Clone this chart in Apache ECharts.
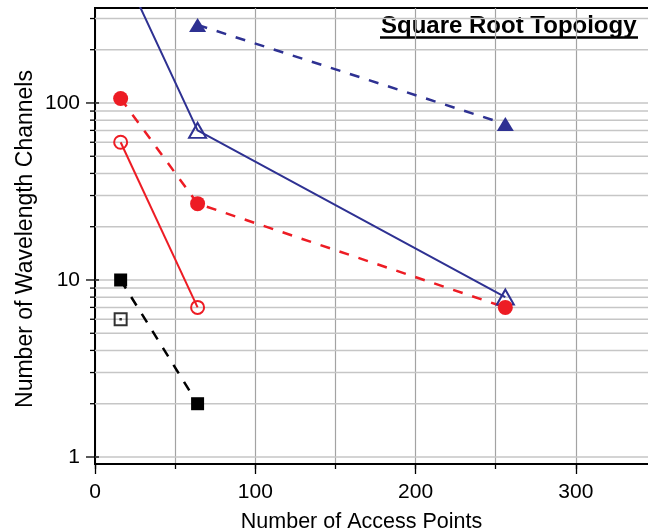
<!DOCTYPE html>
<html>
<head>
<meta charset="utf-8">
<script src="https://cdn.jsdelivr.net/npm/echarts@6/dist/echarts.min.js"></script>
<style>
  html, body { margin: 0; padding: 0; background: #fff; }
  #chart { width: 648px; height: 531px; }
</style>
</head>
<body>
<div id="chart"></div>
<script>
// Number of access points (x) against wavelength channels needed (y, log scale)
const accessPoints = [16, 64, 256];

// Blue, solid, open triangles
const blueOpenY = [600, 70, 8];
// Blue, dashed, filled triangles (no value at 16)
const blueFilledX = [64, 256];
const blueFilledY = [276, 76];
// Red, dashed, filled circles
const redFilledY = [106, 27, 7];
// Red, solid, open circles
const redOpenX = [16, 64];
const redOpenY = [60, 7];
// Black, dashed, filled squares
const blackFilledX = [16, 64];
const blackFilledY = [10, 2];
// Black open square, single value
const blackOpenX = [16];
const blackOpenY = [6];

// Axis ranges and labels
const xMin = 0, xMax = 350;
const xLabelValues = [0, 100, 200, 300];
const yMin = 0.913, yMax = 344;
const yLabelValues = [1, 10, 100];

// Horizontal grid values: every integer step inside each decade
const yGridValues = [];
for (const d of [1, 10, 100]) {
  for (let k = 1; k <= 9; k++) {
    const v = k * d;
    if (v <= yMax) yGridValues.push(v);
  }
}

const FONT = '"Liberation Sans", Arial, Helvetica, sans-serif';
const BLUE = '#2e3192';
const RED = '#ed1c24';
const BLACK = '#000000';

function pairs(xs, ys) { return xs.map((x, i) => [x, ys[i]]); }
function isPow10(v) { return yLabelValues.indexOf(v) >= 0; }

const chart = echarts.init(document.getElementById('chart'), null, { renderer: 'canvas' });

const option = {
  animation: false,
  backgroundColor: '#ffffff',
  grid: {
    // the plot runs on past the right edge of the page
    left: 95, top: 8, width: 561, height: 456,
    outerBoundsMode: 'none', containLabel: false,
    show: true, borderColor: '#000', borderWidth: 2, backgroundColor: 'transparent'
  },
  xAxis: [
    {
      type: 'value', position: 'bottom', min: xMin, max: xMax, interval: 50,
      axisLine: { show: true, onZero: false, lineStyle: { color: '#000', width: 2 } },
      axisTick: { show: true, length: 5, lineStyle: { color: '#000', width: 1.3 } },
      axisLabel: {
        show: true, margin: 18, color: '#000', fontSize: 21, fontFamily: FONT,
        showMaxLabel: false,
        formatter: v => (xLabelValues.indexOf(v) >= 0 ? String(v) : '')
      },
      splitLine: { show: true, lineStyle: { color: '#a3a3a3', width: 1.2 } }
    },
    {
      type: 'value', position: 'bottom', min: xMin, max: xMax, interval: 100,
      axisLine: { show: false },
      axisTick: { show: true, length: 10, lineStyle: { color: '#000', width: 1.3 } },
      axisLabel: { show: false },
      splitLine: { show: false }
    }
  ],
  yAxis: {
    type: 'log', logBase: 10, min: yMin, max: yMax,
    axisLine: { show: true, onZero: false, lineStyle: { color: '#000', width: 2 } },
    axisTick: { show: false },
    splitLine: { show: false },
    axisLabel: {
      show: true, margin: 15, color: '#000', fontSize: 21, fontFamily: FONT,
      showMinLabel: false, showMaxLabel: false,
      formatter: v => {
        const r = Math.round(v);
        return (Math.abs(v - r) < 1e-6 && isPow10(r)) ? String(r) : '';
      }
    }
  },
  graphic: [
    {
      type: 'text', x: 381, y: 26, silent: true,
      style: { text: 'Square Root Topology', font: 'bold 24px ' + FONT, fill: '#000',
               textAlign: 'left', textVerticalAlign: 'middle', verticalAlign: 'middle' }
    },
    {
      type: 'line', silent: true,
      shape: { x1: 380, y1: 37.5, x2: 638, y2: 37.5 },
      style: { stroke: '#000', lineWidth: 2.5 }
    },
    {
      type: 'text', x: 361.5, y: 522, silent: true,
      style: { text: 'Number of Access Points', font: '21.5px ' + FONT, fill: '#000',
               textAlign: 'center', textVerticalAlign: 'middle', verticalAlign: 'middle' }
    },
    {
      type: 'text', x: 25.5, y: 239, rotation: Math.PI / 2, silent: true,
      style: { text: 'Number of Wavelength Channels', font: '23px ' + FONT, fill: '#000',
               textAlign: 'center', textVerticalAlign: 'middle', verticalAlign: 'middle' }
    }
  ],
  series: [
    {
      // log-decade grid lines and y ticks
      type: 'custom', silent: true, z: 1,
      data: yGridValues.map(v => [0, v]),
      encode: { x: 0, y: 1 },
      renderItem: (params, api) => {
        const v = api.value(1);
        const p = api.coord([0, v]);
        const cs = params.coordSys;
        const major = isPow10(Math.round(v));
        return {
          type: 'group',
          children: [
            { type: 'line', shape: { x1: cs.x, y1: p[1], x2: cs.x + cs.width, y2: p[1] },
              style: { stroke: '#c6c6c6', lineWidth: 1.5 } },
            { type: 'line', shape: { x1: cs.x - (major ? 9 : 5), y1: p[1], x2: cs.x + (major ? 4 : 0), y2: p[1] },
              style: { stroke: '#000', lineWidth: 1.3 } }
          ]
        };
      }
    },
    {
      type: 'line', z: 3, data: pairs(accessPoints, blueOpenY),
      symbol: 'triangle', symbolSize: [17, 15], showSymbol: true,
      lineStyle: { color: BLUE, width: 2, type: 'solid' },
      itemStyle: { color: 'rgba(0,0,0,0)', borderColor: BLUE, borderWidth: 2 }
    },
    {
      type: 'line', z: 3, data: pairs(blueFilledX, blueFilledY),
      symbol: 'triangle', symbolSize: [17, 14], showSymbol: true,
      lineStyle: { color: BLUE, width: 2.5, type: [10, 10] },
      itemStyle: { color: BLUE, borderWidth: 0 }
    },
    {
      type: 'line', z: 3, data: pairs(accessPoints, redFilledY),
      symbol: 'circle', symbolSize: 15, showSymbol: true,
      lineStyle: { color: RED, width: 2.5, type: [10, 10] },
      itemStyle: { color: RED, borderWidth: 0 }
    },
    {
      type: 'line', z: 3, data: pairs(redOpenX, redOpenY),
      symbol: 'circle', symbolSize: 13, showSymbol: true,
      lineStyle: { color: RED, width: 2, type: 'solid' },
      itemStyle: { color: 'rgba(0,0,0,0)', borderColor: RED, borderWidth: 2 }
    },
    {
      type: 'line', z: 3, data: pairs(blackFilledX, blackFilledY),
      symbol: 'rect', symbolSize: 13, showSymbol: true,
      lineStyle: { color: BLACK, width: 2.5, type: [10, 10] },
      itemStyle: { color: BLACK, borderWidth: 0 }
    },
    {
      type: 'scatter', z: 3, data: pairs(blackOpenX, blackOpenY),
      symbol: 'rect', symbolSize: 12,
      itemStyle: { color: 'rgba(0,0,0,0)', borderColor: BLACK, borderWidth: 2 }
    },
    {
      type: 'scatter', z: 4, data: pairs(blackOpenX, blackOpenY),
      symbol: 'rect', symbolSize: 2.5,
      itemStyle: { color: BLACK }
    }
  ]
};

chart.setOption(option);
</script>
</body>
</html>
